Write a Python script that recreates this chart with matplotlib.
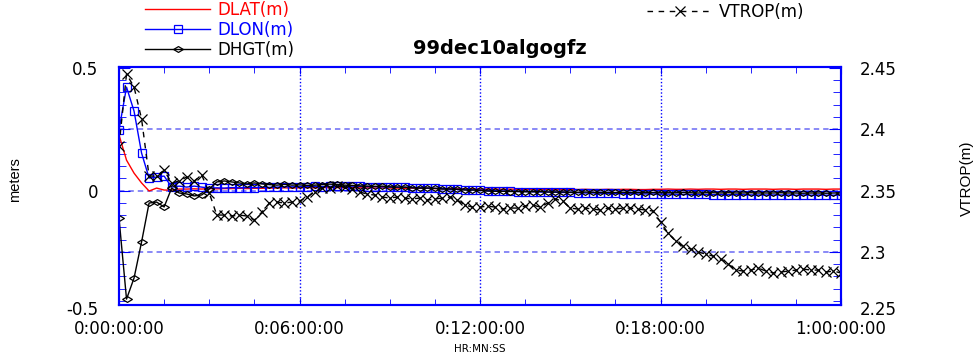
import numpy as np
import matplotlib
matplotlib.use('Agg')
import matplotlib.pyplot as plt
from matplotlib.ticker import FixedLocator, FixedFormatter, MultipleLocator


# samples every 15 minutes over one day
hours = np.arange(97) * 0.25

dlat = [0.227, 0.124, 0.071, 0.031, -0.002, 0.010, 0.002, 0.002, 0.006,
        0.006, 0.007, 0.006, 0.008, 0.007, 0.008, 0.008, 0.009, 0.008, 0.009, 0.009, 0.010,
        0.010, 0.011, 0.010, 0.011, 0.012, 0.011, 0.012, 0.012, 0.012, 0.011,
        0.012, 0.011, 0.011, 0.010, 0.011, 0.010, 0.010, 0.009, 0.010, 0.009,
        0.009, 0.008, 0.008, 0.008, 0.007, 0.007, 0.007, 0.006, 0.006, 0.006,
        0.005, 0.006, 0.005, 0.005, 0.005, 0.004, 0.005, 0.004, 0.004, 0.005,
        0.004, 0.005, 0.004, 0.004, 0.005, 0.004, 0.005, 0.005, 0.004, 0.004,
        0.005, 0.005, 0.006, 0.005, 0.005, 0.006, 0.005, 0.006, 0.006, 0.005,
        0.006, 0.006, 0.005, 0.006, 0.006, 0.006, 0.005, 0.006, 0.006, 0.005,
        0.006, 0.006, 0.006, 0.005, 0.006, 0.006]

dlon = [0.247, 0.422, 0.324, 0.153, 0.051, 0.055, 0.059, 0.014, 0.018, 0.014, 0.018, 0.014,
        0.010, 0.011, 0.010, 0.012, 0.011, 0.012, 0.012, 0.013, 0.013,
        0.014, 0.015, 0.015, 0.016, 0.016, 0.017, 0.016, 0.017, 0.018, 0.017,
        0.018, 0.017, 0.016, 0.016, 0.015, 0.014, 0.014, 0.013, 0.012, 0.012,
        0.010, 0.009, 0.008, 0.006, 0.005, 0.004, 0.003, 0.002,
        0.000, -0.001, -0.002, -0.003, -0.004, -0.004, -0.005, -0.006,
        -0.006, -0.007, -0.008, -0.008, -0.009, -0.010, -0.010, -0.011,
        -0.012, -0.012, -0.013, -0.013, -0.014, -0.014, -0.014, -0.015,
        -0.015, -0.015, -0.016, -0.016, -0.016, -0.016, -0.017, -0.017,
        -0.017, -0.017, -0.017, -0.018, -0.018, -0.018, -0.018, -0.018,
        -0.018, -0.019, -0.018, -0.019, -0.018, -0.019, -0.019, -0.018]

dhgt = [-0.112, -0.443, -0.357, -0.210, -0.051, -0.047, -0.067, 0.010, -0.010, -0.014, -0.022, -0.018, 0.006,
        0.035, 0.039, 0.035, 0.031, 0.027, 0.031, 0.027,
        0.024, 0.022, 0.025, 0.022, 0.023, 0.021, 0.022, 0.024, 0.026, 0.025, 0.022, 0.021,
        0.019, 0.018, 0.017, 0.018, 0.015, 0.014, 0.014, 0.011, 0.010, 0.010,
        0.009, 0.006, 0.006, 0.005, 0.002, 0.002, 0.001,
        -0.002, -0.003, -0.003, -0.004, -0.004, -0.005, -0.005, -0.004, -0.006, -0.006,
        -0.006, -0.007, -0.007, -0.006, -0.007, -0.008, -0.008, -0.008, -0.007, -0.008,
        -0.008, -0.009, -0.008, -0.009, -0.009, -0.009, -0.008, -0.009, -0.010, -0.009,
        -0.009, -0.010, -0.009, -0.010, -0.010, -0.009, -0.010, -0.010, -0.010, -0.009,
        -0.010, -0.010, -0.011, -0.010, -0.010, -0.011, -0.010, -0.010]

vtrop = [2.3863, 2.4451, 2.4345, 2.4084, 2.3618, 2.3618, 2.3665, 2.3561, 2.3578, 2.3610,
         2.3578, 2.3627, 2.3480, 2.3300, 2.3300, 2.3292, 2.3300, 2.3292, 2.3259, 2.3324,
         2.3398, 2.3406, 2.3398, 2.3406, 2.3414, 2.3447, 2.3488, 2.3520, 2.3520, 2.3537,
         2.3529, 2.3512, 2.3488, 2.3471, 2.3463, 2.3447, 2.3439, 2.3447, 2.3439, 2.3431,
         2.3439, 2.3422, 2.3431, 2.3439, 2.3447, 2.3422, 2.3382, 2.3365, 2.3365, 2.3373,
         2.3365, 2.3349, 2.3357, 2.3357, 2.3373, 2.3382, 2.3365, 2.3398, 2.3431, 2.3414,
         2.3357, 2.3349, 2.3357, 2.3349, 2.3341, 2.3357, 2.3349, 2.3357, 2.3357, 2.3349,
         2.3341, 2.3333, 2.3243, 2.3153, 2.3088, 2.3047, 2.3022, 2.2998, 2.2982, 2.2965,
         2.2941, 2.2900, 2.2851, 2.2843, 2.2851, 2.2867, 2.2843, 2.2827, 2.2835, 2.2843,
         2.2851, 2.2859, 2.2851, 2.2851, 2.2835, 2.2843, 2.2827]

xtick_hours = [0, 6, 12, 18, 24]
xtick_labels = ['0:00:00:00', '0:06:00:00', '0:12:00:00', '0:18:00:00', '1:00:00:00']
yticks_left = [-0.25, 0, 0.25, 0.5]
ylabels_left = ['', '0', '', '0.5']
yticks_right = [2.3, 2.35, 2.4, 2.45]
ylabels_right = ['2.3', '2.35', '2.4', '2.45']

BLUE = '#0000ff'
plt.rcParams['font.family'] = ['DejaVu Sans']

fig = plt.figure(figsize=(9.76, 3.6), dpi=100)
ax = fig.add_axes([119 / 976, 1 - 305 / 360, 722 / 976, 238 / 360])
ax2 = ax.twinx()

ax.set_xlim(0, 24)
ax.set_ylim(-0.467, 0.504)
ax2.set_ylim(2.35 + 0.2 * -0.467, 2.35 + 0.2 * 0.504)

# grid
for h in xtick_hours[1:-1]:
    ax.axvline(h, color=BLUE, lw=1.0, ls=(0, (1, 1.5)), zorder=0.5)
for v in [-0.25, 0, 0.25]:
    ax.axhline(v, color='#8080f6', lw=1.3, ls=(0, (3, 2.2)), zorder=0.5)

diamond = [(-1, 0), (0, 0.6), (1, 0), (0, -0.6), (-1, 0)]

h_lat, = ax.plot(hours, dlat, color='#ff0000', lw=1, label='DLAT(m)')
h_lon, = ax.plot(hours, dlon, color=BLUE, lw=1, marker='s', ms=5.5, mfc='none',
                 mew=0.9, label='DLON(m)')
h_hgt, = ax.plot(hours, dhgt, color='black', lw=1, marker=diamond, ms=7, mfc='none',
                 mew=0.9, label='DHGT(m)')
h_vt, = ax2.plot(hours, vtrop, color='black', lw=1, ls=(0, (4, 4)), marker='x', ms=7,
                 mew=0.9, label='VTROP(m)')

# x axis
ax.xaxis.set_major_locator(FixedLocator(xtick_hours))
ax.xaxis.set_major_formatter(FixedFormatter(xtick_labels))
ax.xaxis.set_minor_locator(MultipleLocator(1.5))
ax.tick_params(axis='x', which='both', direction='in', color=BLUE, top=True,
               labelsize=12, pad=11)
ax.tick_params(axis='x', which='major', length=5)
ax.tick_params(axis='x', which='minor', length=4)
ax.set_xlabel('HR:MN:SS', fontsize=7.5, labelpad=4)

# left axis
ax.yaxis.set_major_locator(FixedLocator(yticks_left))
ax.yaxis.set_major_formatter(FixedFormatter(ylabels_left))
ax.yaxis.set_minor_locator(MultipleLocator(0.05))
ax.tick_params(axis='y', which='both', direction='in', color=BLUE, right=False,
               labelsize=12, pad=15)
ax.tick_params(axis='y', which='major', length=8)
ax.tick_params(axis='y', which='minor', length=5)
ax.annotate('-0.5', xy=(0, -0.5), xycoords=('axes fraction', 'data'),
            xytext=(-15, 4), textcoords='offset points', ha='right',
            va='center_baseline', fontsize=12, annotation_clip=False)
ax.set_ylabel('meters', family='Liberation Sans', fontsize=10.5)
ax.yaxis.set_label_coords(-0.134, 0.525)

# right axis
ax2.yaxis.set_major_locator(FixedLocator(yticks_right))
ax2.yaxis.set_major_formatter(FixedFormatter(ylabels_right))
ax2.yaxis.set_minor_locator(MultipleLocator(0.01))
ax2.tick_params(axis='y', which='both', direction='in', color=BLUE, labelsize=12, pad=13.5)
ax2.tick_params(axis='y', which='major', length=9)
ax2.tick_params(axis='y', which='minor', length=6)
ax2.annotate('2.25', xy=(1, 2.25), xycoords=('axes fraction', 'data'),
             xytext=(13.5, 4), textcoords='offset points', ha='left',
             va='center_baseline', fontsize=12, annotation_clip=False)
ax2.set_ylabel('VTROP(m)', family='Liberation Sans', fontsize=11)
ax2.yaxis.set_label_coords(1.1648, 0.534)

for a in (ax, ax2):
    for s in a.spines.values():
        s.set_color(BLUE)
        s.set_linewidth(1.5)

ax.set_title('99dec10algogfz', fontsize=14, fontweight='bold', x=0.5277, pad=9)

fig.legend(handles=[h_lat, h_lon, h_hgt], loc='upper left',
           bbox_to_anchor=(145 / 976, 1 - 1 / 360), frameon=False, fontsize=12,
           handlelength=3.9, handletextpad=0.42, labelspacing=0.12, borderpad=0,
           borderaxespad=0, labelcolor='linecolor', numpoints=1)
fig.legend(handles=[h_vt], loc='upper left',
           bbox_to_anchor=(647 / 976, 1 - 3 / 360), frameon=False, fontsize=12,
           handlelength=3.9, handletextpad=0.42, borderpad=0, borderaxespad=0,
           labelcolor='linecolor', numpoints=1)

fig.savefig('out.png', dpi=100)
